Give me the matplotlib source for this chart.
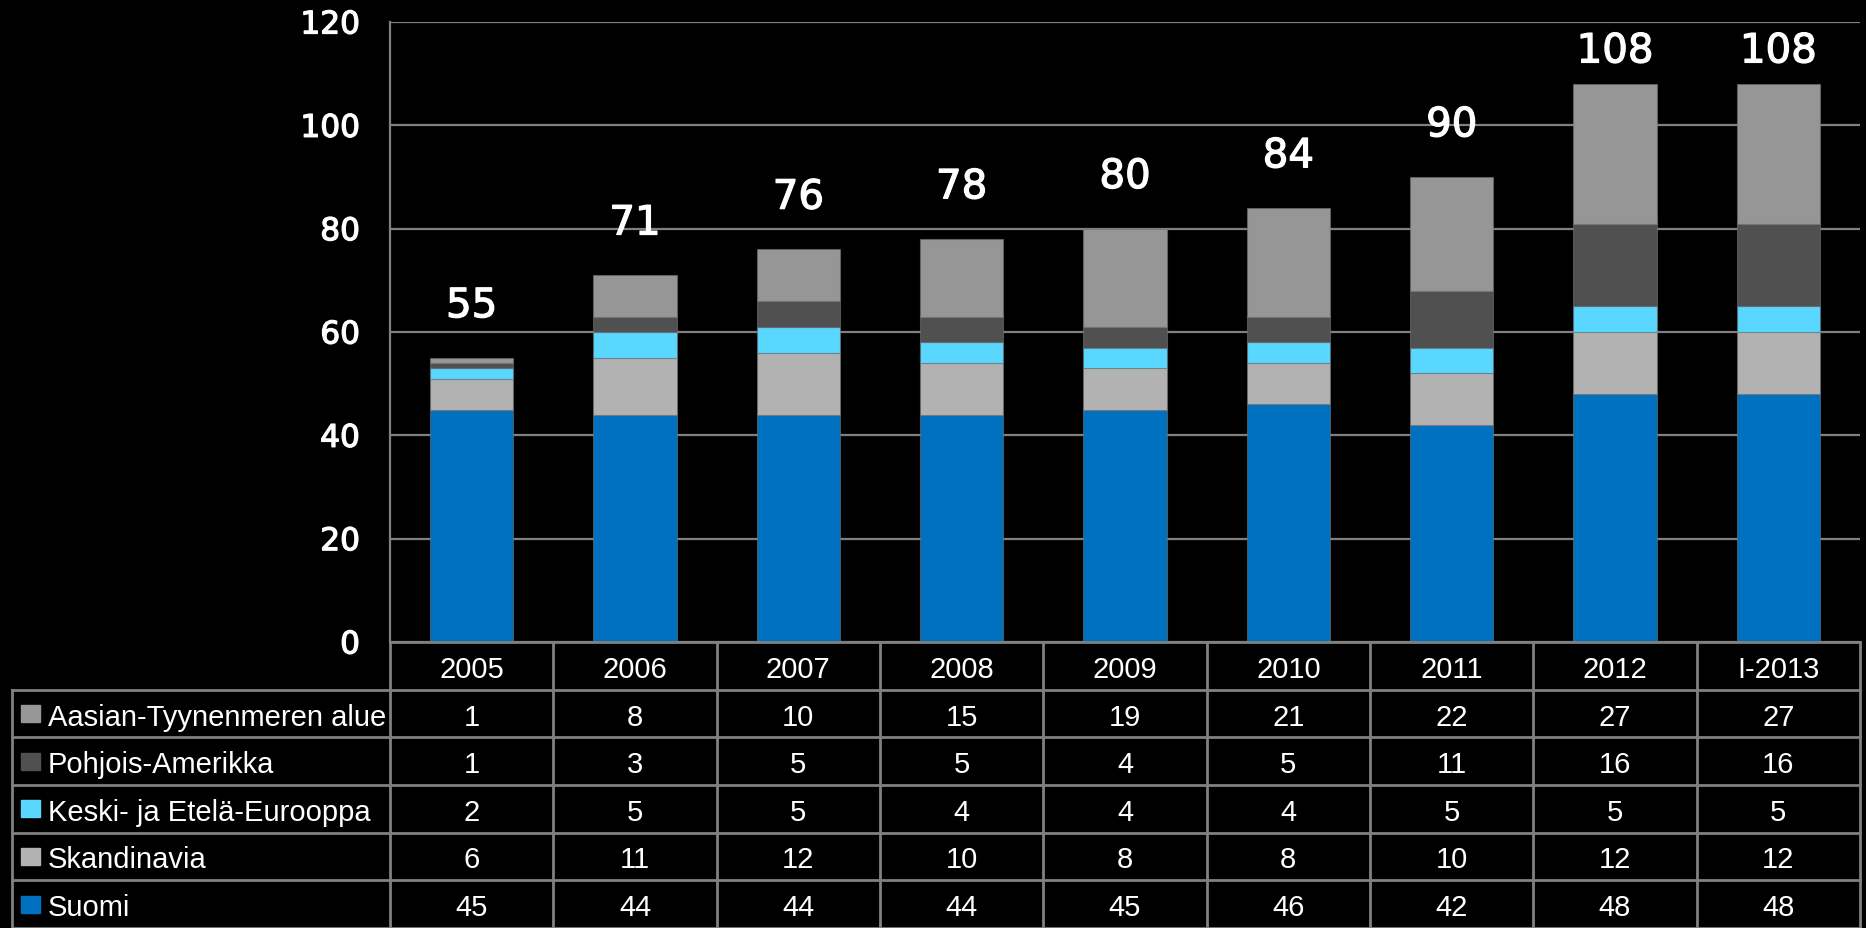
# stacked bars by market area with data table underneath
import matplotlib
matplotlib.use('Agg')
import matplotlib.pyplot as plt
import matplotlib.patheffects as pe
from matplotlib.patches import Rectangle

periods = ['2005', '2006', '2007', '2008', '2009', '2010', '2011', '2012', 'I-2013']
suomi = [45, 44, 44, 44, 45, 46, 42, 48, 48]
skandinavia = [6, 11, 12, 10, 8, 8, 10, 12, 12]
keski = [2, 5, 5, 4, 4, 4, 5, 5, 5]
pohjois = [1, 3, 5, 5, 4, 5, 11, 16, 16]
aasia = [1, 8, 10, 15, 19, 21, 22, 27, 27]

# bottom -> top stacking order
stack = [('Suomi', suomi, '#0070C0'),
         ('Skandinavia', skandinavia, '#B2B2B2'),
         ('Keski- ja Etelä-Eurooppa', keski, '#5AD7FF'),
         ('Pohjois-Amerikka', pohjois, '#505050'),
         ('Aasian-Tyynenmeren alue', aasia, '#969696')]

W, H = 1866, 929
BG, LINE = 'black', '#808080'
N = len(periods)
fig = plt.figure(figsize=(W / 100, H / 100), dpi=100, facecolor=BG)
heavy = [pe.withStroke(linewidth=0.9, foreground='white')]

# plot area in pixels: x 390..1860, y 23..643
L, R, T, B = 390, 1860, 23, 643
ax = fig.add_axes([L / W, 1 - B / H, (R - L) / W, (B - T) / H], facecolor=BG)

bottom = [0] * N
for name, vals, c in stack:
    ax.bar(range(N), vals, width=0.51, bottom=bottom, color=c,
           edgecolor=(0.45, 0.45, 0.45, 0.6), linewidth=0.8, zorder=3)
    bottom = [b + v for b, v in zip(bottom, vals)]

for i, tot in enumerate(bottom):
    ax.text(i, min(tot + 10, 114.3), str(tot), ha='center', va='center',
            fontsize=29, color='white', family='DejaVu Sans', zorder=4,
            path_effects=heavy)

ax.set_xlim(-0.5, N - 0.5)
ax.set_ylim(0, 120)
ax.set_yticks(range(0, 121, 20))
ax.set_xticks([])
ax.yaxis.grid(True, color=LINE, lw=1.6, zorder=0)
ax.set_axisbelow(True)
ax.tick_params(axis='y', length=0, pad=21.6, labelcolor='white', labelsize=22.5)
for lab in ax.get_yticklabels():
    lab.set_path_effects(heavy)
for sp in ('top', 'right', 'bottom'):
    ax.spines[sp].set_visible(False)
ax.spines['left'].set_color(LINE)
ax.spines['left'].set_linewidth(1.6)

# data table below the plot
tax = fig.add_axes([L / W, 0, (R - L) / W, (H - B) / H], facecolor=BG)
tax.set_xlim(-0.5, N - 0.5)
tax.set_ylim(6, 0)
tax.axis('off')
col_w = (R - L) / N
def px2x(px): return -0.5 + (px - L) / col_w
x_left = px2x(12)

kw = dict(color=LINE, lw=2, clip_on=False)
for k in range(N + 1):
    tax.plot([k - 0.5, k - 0.5], [0, 6], **kw)
tax.plot([x_left, x_left], [1, 6], **kw)
tax.plot([-0.5, N - 0.5], [0, 0], **kw)
for r in range(1, 7):
    tax.plot([x_left, N - 0.5], [r, r], **kw)

TF = dict(family=['Liberation Sans', 'DejaVu Sans'], fontsize=21, color='white',
          va='center_baseline')
for i, p in enumerate(periods):
    tax.text(i, 0.5, p, ha='center', **TF)

for r, (name, vals, c) in enumerate(reversed(stack)):
    y = r + 1.5
    tax.add_patch(Rectangle((px2x(21), y - 0.18), 19 / col_w, 0.36, color=c,
                            clip_on=False))
    tax.text(px2x(48), y, name, ha='left', **TF)
    for i, v in enumerate(vals):
        tax.text(i, y, str(v), ha='center', **TF)

fig.savefig('out.png', dpi=100, facecolor=BG)
